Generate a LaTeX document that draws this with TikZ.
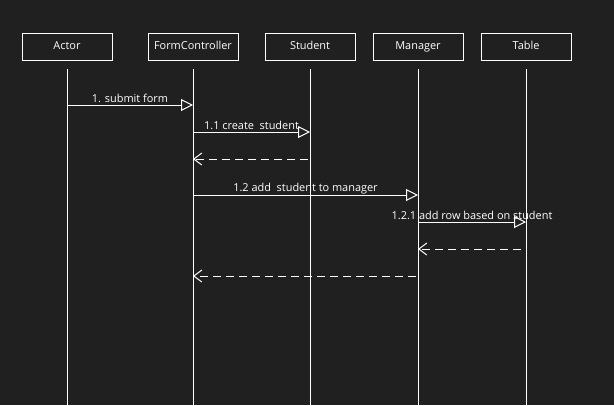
\documentclass[tikz,border=0pt]{standalone}
\usepackage{fontspec}
\setmainfont{Open Sans}
\usetikzlibrary{arrows.meta}
\definecolor{bg}{HTML}{202020}
\begin{document}
\begin{tikzpicture}[x=0.75pt,y=-0.75pt,
  every node/.style={font=\fontsize{8.2}{9.5}\selectfont, text=white},
  obj/.style={draw=white, line width=0.75pt, minimum width=67.5pt, minimum height=20.25pt, inner sep=0pt},
  life/.style={draw=white, line width=0.75pt},
  msg/.style={draw=white, line width=0.75pt, -{Triangle[length=9pt,width=9pt,fill=bg,line width=0.75pt]}},
  ret/.style={draw=white, line width=0.75pt, dash pattern=on 6pt off 3.75pt, -{Straight Barb[length=6pt,width=9pt,line width=0.75pt]}},
  lbl/.style={above, inner sep=1.5pt}
]
\fill[bg] (0,0) rectangle (614,405);
\useasboundingbox (0,0) rectangle (614,405);
% objects
\node[obj] (actor) at (67,46.5) {\raisebox{1pt}{Actor}};
\node[obj] (fc) at (193,46.5) {\raisebox{1pt}{FormController}};
\node[obj] (stu) at (310,46.5) {\raisebox{1pt}{Student}};
\node[obj] (mgr) at (418,46.5) {\raisebox{1pt}{Manager}};
\node[obj] (tbl) at (526,46.5) {\raisebox{1pt}{Table}};
% lifelines
\coordinate (aT) at (67,69); \coordinate (aB) at (67,405);
\coordinate (fT) at (193,69); \coordinate (fB) at (193,405);
\coordinate (sT) at (310,69); \coordinate (sB) at (310,405);
\coordinate (mT) at (418,69); \coordinate (mB) at (418,405);
\coordinate (tT) at (526,69); \coordinate (tB) at (526,405);
\draw[life] (aT) -- (aB);
\draw[life] (fT) -- (fB);
\draw[life] (sT) -- (sB);
\draw[life] (mT) -- (mB);
\draw[life] (tT) -- (tB);
% messages
\coordinate (m1a) at (67,105); \coordinate (m1b) at (193,105);
\draw[msg] (m1a) -- node[lbl, pos=0.5] {1. submit form} (m1b);
\coordinate (m2a) at (193,132); \coordinate (m2b) at (310,132);
\draw[msg] (m2a) -- node[lbl, pos=0.5] {1.1 create\ \ student} (m2b);
\coordinate (r1a) at (308,159); \coordinate (r1b) at (193,159);
\draw[ret] (r1a) -- (r1b);
\coordinate (m3a) at (193,195); \coordinate (m3b) at (418,195);
\draw[msg] (m3a) -- node[lbl, pos=0.5, inner sep=0.5pt] {1.2 add\ \ student to manager} (m3b);
\coordinate (m4a) at (418,222); \coordinate (m4b) at (526,222);
\draw[msg] (m4a) -- node[lbl, pos=0.5] {1.2.1 add row based on student} (m4b);
\coordinate (r2a) at (521,249); \coordinate (r2b) at (418,249);
\draw[ret] (r2a) -- (r2b);
\coordinate (r3a) at (416,276); \coordinate (r3b) at (193,276);
\draw[ret] (r3a) -- (r3b);
\end{tikzpicture}
\end{document}
